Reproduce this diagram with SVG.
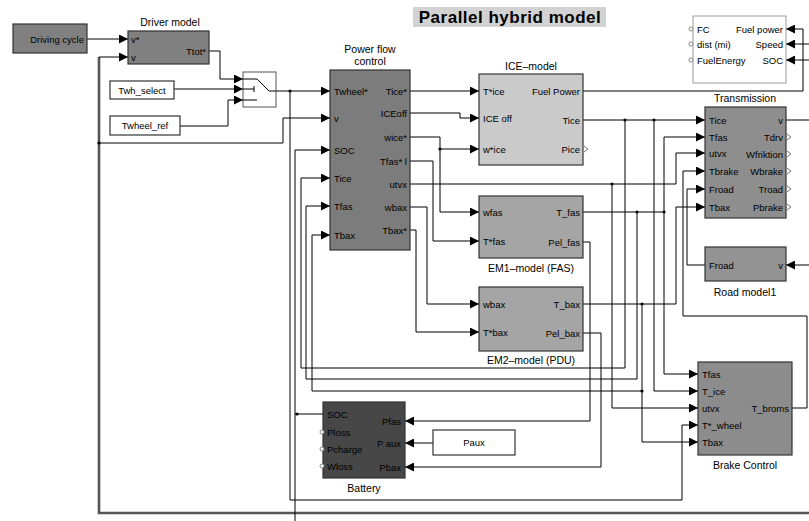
<svg xmlns="http://www.w3.org/2000/svg" width="809" height="521" viewBox="0 0 809 521">
<style>
text{font-family:"Liberation Sans",Arial,sans-serif;fill:#000}
.p{font-size:9.5px}
.t{font-size:10.5px;text-anchor:middle}
.e{text-anchor:end}
.m{text-anchor:middle}
.blk{stroke:#333;stroke-width:1.2}
.w{stroke:#000;stroke-width:1;fill:none}
.th{stroke:#555;stroke-width:2.6;fill:none}
.op{stroke:#777;stroke-width:1;fill:none}
.oc{stroke:#888;stroke-width:1;fill:#fff}
</style>
<defs>
<marker id="a" viewBox="0 0 10 10" refX="10" refY="5" markerWidth="9" markerHeight="9" markerUnits="userSpaceOnUse" orient="auto"><path d="M0,0 L10,5 L0,10 z" fill="#000"/></marker>
</defs>
<rect width="809" height="521" fill="#fff"/>

<g id="title">
<rect x="413" y="7" width="193" height="20" fill="#d2d2d2"/>
<text x="510" y="23" style="font-size:17px;font-weight:bold;text-anchor:middle;letter-spacing:0.5px">Parallel hybrid model</text>
</g>

<g id="connectors">
<path class="w" d="M87,39 H128" marker-end="url(#a)"/>
<path class="th" d="M809,513 H99 V57"/>
<path class="w" d="M99,57 H128" marker-end="url(#a)"/>
<path class="w" d="M99,143 H283 V118 H330" marker-end="url(#a)"/>
<path class="w" d="M209,51 H220 V79 H243" marker-end="url(#a)"/>
<path class="w" d="M174,89 H243" marker-end="url(#a)"/>
<path class="w" d="M180,126 H228 V100 H243" marker-end="url(#a)"/>
<path class="w" d="M276,91 H330" marker-end="url(#a)"/>
<path class="w" d="M290,91 V500 H682 V425 H698" marker-end="url(#a)"/>
<path class="w" d="M410,91 H479" marker-end="url(#a)"/>
<path class="w" d="M410,113 H460 V118 H479" marker-end="url(#a)"/>
<path class="w" d="M410,137 H440 V149 H479" marker-end="url(#a)"/>
<path class="w" d="M440,149 V212 H479" marker-end="url(#a)"/>
<path class="w" d="M410,161 H433 V241 H479" marker-end="url(#a)"/>
<path class="w" d="M410,184 H676 V153 H705" marker-end="url(#a)"/>
<path class="w" d="M612,184 V408 H698" marker-end="url(#a)"/>
<path class="w" d="M410,207 H427 V304 H479" marker-end="url(#a)"/>
<path class="w" d="M410,230 H416 V332 H479" marker-end="url(#a)"/>
<path class="w" d="M583,91 H803 V29 H786" marker-end="url(#a)"/>
<path class="w" d="M809,44 H786" marker-end="url(#a)"/>
<path class="w" d="M809,60 H786" marker-end="url(#a)"/>
<path class="w" d="M583,120 H705" marker-end="url(#a)"/>
<path class="w" d="M625,120 V368 H301 V178 H330" marker-end="url(#a)"/>
<path class="w" d="M654,120 V391 H698" marker-end="url(#a)"/>
<path class="w" d="M583,212 H664 V137 H705" marker-end="url(#a)"/>
<path class="w" d="M664,212 V374 H698" marker-end="url(#a)"/>
<path class="w" d="M637,212 V379 H306 V206 H330" marker-end="url(#a)"/>
<path class="w" d="M583,304 H676 V207 H705" marker-end="url(#a)"/>
<path class="w" d="M642,304 V442 H698" marker-end="url(#a)"/>
<path class="w" d="M642,391 H312 V235 H330" marker-end="url(#a)"/>
<path class="w" d="M583,242 H590 V421 H405" marker-end="url(#a)"/>
<path class="w" d="M583,333 H601 V467 H405" marker-end="url(#a)"/>
<path class="w" d="M433,443 H405" marker-end="url(#a)"/>
<path class="w" d="M323,414 H295"/>
<path class="w" d="M295,521 V150 H330" marker-end="url(#a)"/>
<path class="w" d="M786,120 H809"/>
<path class="w" d="M705,265 H687 V189 H705" marker-end="url(#a)"/>
<path class="w" d="M809,265 H786" marker-end="url(#a)"/>
<path class="w" d="M792,408 H807 V316 H683 V171 H705" marker-end="url(#a)"/>
<g fill="#000">
<circle cx="99" cy="143" r="1.6"/>
<circle cx="290" cy="91" r="1.6"/>
<circle cx="440" cy="149" r="1.6"/>
<circle cx="612" cy="184" r="1.6"/>
<circle cx="625" cy="120" r="1.6"/>
<circle cx="654" cy="120" r="1.6"/>
<circle cx="637" cy="212" r="1.6"/>
<circle cx="664" cy="212" r="1.6"/>
<circle cx="642" cy="304" r="1.6"/>
<circle cx="642" cy="391" r="1.6"/>
<circle cx="297" cy="414" r="1.6"/>
</g>
</g>

<g id="driving-cycle">
<rect class="blk" x="13" y="24" width="74" height="29" fill="#808080"/>
<text class="p e" x="84" y="42.5">Driving cycle</text>
</g>

<g id="driver-model">
<text class="t" x="170" y="26">Driver model</text>
<rect class="blk" x="128" y="31" width="81" height="33" fill="#808080"/>
<text class="p" x="131" y="42.5">v*</text>
<text class="p" x="131" y="60.5">v</text>
<text class="p e" x="206" y="54.5">Ttot*</text>
</g>

<g id="switch">
<rect x="243" y="72" width="33" height="35" fill="#fff" stroke="#555" stroke-width="1"/>
<path class="w" d="M243,79 H257 L269,91 H276 M243,89 H254 M254,86 V92 M243,100 H257"/>
</g>

<g id="twh-select">
<rect x="110" y="81" width="64" height="18" fill="#fff" stroke="#333" stroke-width="1.2"/>
<text class="p m" x="142" y="93.5">Twh_select</text>
</g>

<g id="twheel-ref">
<rect x="110" y="116" width="70" height="19" fill="#fff" stroke="#333" stroke-width="1.2"/>
<text class="p m" x="145" y="129">Twheel_ref</text>
</g>

<g id="power-flow-control">
<text class="t" x="370" y="53">Power flow</text>
<text class="t" x="370" y="65">control</text>
<rect class="blk" x="330" y="70" width="80" height="180" fill="#7c7c7c"/>
<text class="p" x="334" y="94.5">Twheel*</text>
<text class="p" x="334" y="121.5">v</text>
<text class="p" x="334" y="153.5">SOC</text>
<text class="p" x="334" y="181.5">Tice</text>
<text class="p" x="334" y="209.5">Tfas</text>
<text class="p" x="334" y="238.5">Tbax</text>
<text class="p e" x="407" y="94.5">Tice*</text>
<text class="p e" x="407" y="116.5">ICEoff</text>
<text class="p e" x="407" y="140.5">wice*</text>
<text class="p e" x="407" y="164.5">Tfas* l</text>
<text class="p e" x="407" y="187.5">utvx</text>
<text class="p e" x="407" y="210.5">wbax</text>
<text class="p e" x="407" y="233.5">Tbax*</text>
</g>

<g id="ice-model">
<text class="t" x="531" y="70">ICE–model</text>
<rect class="blk" x="479" y="74" width="104" height="91" fill="#cacaca"/>
<text class="p" x="483" y="94.5">T*ice</text>
<text class="p" x="483" y="121.5">ICE off</text>
<text class="p" x="483" y="152.5">w*ice</text>
<text class="p e" x="580" y="94.5">Fuel Power</text>
<text class="p e" x="580" y="123.5">Tice</text>
<text class="p e" x="580" y="152.5">Pice</text>
<path class="op" d="M584,146 L588,149 L584,152"/>
</g>

<g id="em1-model">
<rect class="blk" x="479" y="196" width="104" height="62" fill="#a5a5a5"/>
<text class="p" x="483" y="215.5">wfas</text>
<text class="p" x="483" y="244.5">T*fas</text>
<text class="p e" x="580" y="215.5">T_fas</text>
<text class="p e" x="580" y="245.5">Pel_fas</text>
<text class="t" x="531" y="272">EM1–model (FAS)</text>
</g>

<g id="em2-model">
<rect class="blk" x="479" y="287" width="104" height="64" fill="#a5a5a5"/>
<text class="p" x="483" y="307.5">wbax</text>
<text class="p" x="483" y="335.5">T*bax</text>
<text class="p e" x="580" y="307.5">T_bax</text>
<text class="p e" x="580" y="336.5">Pel_bax</text>
<text class="t" x="531" y="364">EM2–model (PDU)</text>
</g>

<g id="display">
<rect x="693" y="16" width="93" height="67" fill="#fff" stroke="#999" stroke-width="1"/>
<circle class="oc" cx="691" cy="29" r="2"/>
<circle class="oc" cx="691" cy="44" r="2"/>
<circle class="oc" cx="691" cy="60" r="2"/>
<text class="p" x="697" y="32.5">FC</text>
<text class="p" x="697" y="47.5">dist (mi)</text>
<text class="p" x="697" y="63.5">FuelEnergy</text>
<text class="p e" x="783" y="32.5">Fuel power</text>
<text class="p e" x="783" y="47.5">Speed</text>
<text class="p e" x="783" y="63.5">SOC</text>
</g>

<g id="transmission">
<text class="t" x="745" y="102">Transmission</text>
<rect class="blk" x="705" y="107" width="81" height="111" fill="#8e8e8e"/>
<text class="p" x="709" y="123.5">Tice</text>
<text class="p" x="709" y="140.5">Tfas</text>
<text class="p" x="709" y="156.5">utvx</text>
<text class="p" x="709" y="174.5">Tbrake</text>
<text class="p" x="709" y="192.5">Froad</text>
<text class="p" x="709" y="210.5">Tbax</text>
<text class="p e" x="783" y="123.5">v</text>
<text class="p e" x="783" y="140.5">Tdrv</text>
<text class="p e" x="783" y="157.5">Wfriktion</text>
<text class="p e" x="783" y="174.5">Wbrake</text>
<text class="p e" x="783" y="192.5">Troad</text>
<text class="p e" x="783" y="210.5">Pbrake</text>
<path class="op" d="M787,134 L791,137 L787,140 M787,151 L791,154 L787,157 M787,168 L791,171 L787,174 M787,186 L791,189 L787,192 M787,204 L791,207 L787,210"/>
</g>

<g id="road-model">
<rect class="blk" x="705" y="247" width="81" height="34" fill="#939393"/>
<text class="p" x="709" y="268.5">Froad</text>
<text class="p e" x="783" y="268.5">v</text>
<text class="t" x="745" y="296">Road model1</text>
</g>

<g id="brake-control">
<rect class="blk" x="698" y="362" width="94" height="93" fill="#8c8c8c"/>
<text class="p" x="702" y="377.5">Tfas</text>
<text class="p" x="702" y="394.5">T_ice</text>
<text class="p" x="702" y="411.5">utvx</text>
<text class="p" x="702" y="428.5">T*_wheel</text>
<text class="p" x="702" y="445.5">Tbax</text>
<text class="p e" x="789" y="411.5">T_broms</text>
<text class="t" x="745" y="469">Brake Control</text>
</g>

<g id="battery">
<rect class="blk" x="323" y="402" width="82" height="76" fill="#474747"/>
<circle class="oc" cx="322" cy="432" r="2"/>
<circle class="oc" cx="322" cy="449" r="2"/>
<circle class="oc" cx="322" cy="466" r="2"/>
<text class="p" x="327" y="417.5">SOC</text>
<text class="p" x="327" y="435.5">Ploss</text>
<text class="p" x="327" y="452.5">Pcharge</text>
<text class="p" x="327" y="469.5">Wloss</text>
<text class="p e" x="401" y="424.5">Pfas</text>
<text class="p e" x="401" y="446.5">P aux</text>
<text class="p e" x="401" y="470.5">Pbax</text>
<text class="t" x="364" y="492">Battery</text>
</g>

<g id="paux">
<rect x="433" y="430" width="82" height="25" fill="#fff" stroke="#333" stroke-width="1.2"/>
<text class="p m" x="474" y="446">Paux</text>
</g>
</svg>
